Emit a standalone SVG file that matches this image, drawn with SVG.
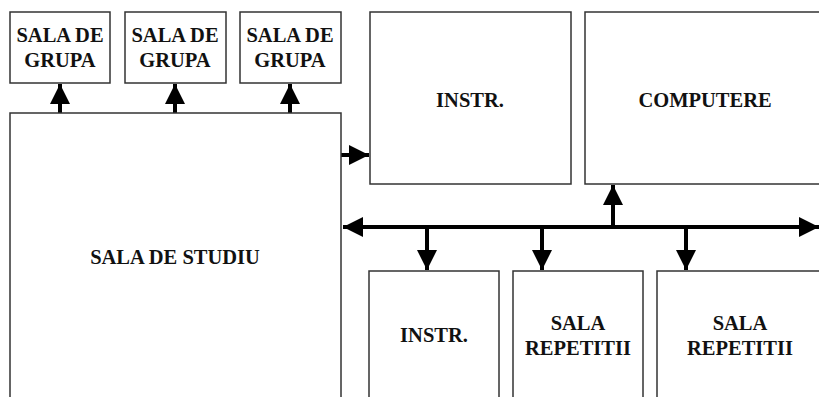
<svg xmlns="http://www.w3.org/2000/svg" width="819" height="397" viewBox="0 0 819 397">
<style>
.box{fill:#fff;stroke:#333;stroke-width:1.5}
.lbl{font-family:"Liberation Serif","Times New Roman",serif;font-weight:bold;font-size:20.5px;fill:#111;text-anchor:middle}
.ln{stroke:#000;stroke-width:4;fill:none}
</style>
<defs>
<marker id="ah" viewBox="0 0 10 10" refX="10" refY="5" markerWidth="5" markerHeight="5" markerUnits="strokeWidth" orient="auto-start-reverse">
<path d="M0,0 L10,5 L0,10 Z" fill="#000"/>
</marker>
</defs>
<rect width="819" height="397" fill="#fff"/>
<g id="connectors">
<line class="ln" x1="60" y1="113" x2="60" y2="84" marker-end="url(#ah)"/>
<line class="ln" x1="175" y1="113" x2="175" y2="84" marker-end="url(#ah)"/>
<line class="ln" x1="290" y1="113" x2="290" y2="84" marker-end="url(#ah)"/>
<line class="ln" x1="341" y1="155" x2="369" y2="155" marker-end="url(#ah)"/>
<line class="ln" x1="343" y1="227" x2="819" y2="227" marker-start="url(#ah)" marker-end="url(#ah)"/>
<line class="ln" x1="613" y1="227" x2="613" y2="185" marker-end="url(#ah)"/>
<line class="ln" x1="427" y1="227" x2="427" y2="270" marker-end="url(#ah)"/>
<line class="ln" x1="542" y1="227" x2="542" y2="270" marker-end="url(#ah)"/>
<line class="ln" x1="686" y1="227" x2="686" y2="270" marker-end="url(#ah)"/>
</g>
<g id="grupa1"><rect class="box" x="10" y="12" width="100" height="71"/><text class="lbl" x="60" y="42">SALA DE</text><text class="lbl" x="60" y="67">GRUPA</text></g>
<g id="grupa2"><rect class="box" x="125" y="12" width="101" height="71"/><text class="lbl" x="175" y="42">SALA DE</text><text class="lbl" x="175" y="67">GRUPA</text></g>
<g id="grupa3"><rect class="box" x="240" y="12" width="101" height="71"/><text class="lbl" x="290" y="42">SALA DE</text><text class="lbl" x="290" y="67">GRUPA</text></g>
<g id="studiu"><rect class="box" x="10" y="113" width="331" height="300"/><text class="lbl" x="175" y="264">SALA DE STUDIU</text></g>
<g id="instr1"><rect class="box" x="370" y="12" width="201" height="172"/><text class="lbl" x="470" y="107">INSTR.</text></g>
<g id="computere"><rect class="box" x="585" y="12" width="250" height="172"/><text class="lbl" x="705" y="107">COMPUTERE</text></g>
<g id="instr2"><rect class="box" x="369" y="271" width="130" height="140"/><text class="lbl" x="434" y="342">INSTR.</text></g>
<g id="repetitii1"><rect class="box" x="513" y="271" width="130" height="140"/><text class="lbl" x="578" y="330">SALA</text><text class="lbl" x="578" y="355">REPETITII</text></g>
<g id="repetitii2"><rect class="box" x="657" y="271" width="180" height="140"/><text class="lbl" x="740" y="330">SALA</text><text class="lbl" x="740" y="355">REPETITII</text></g>
</svg>
